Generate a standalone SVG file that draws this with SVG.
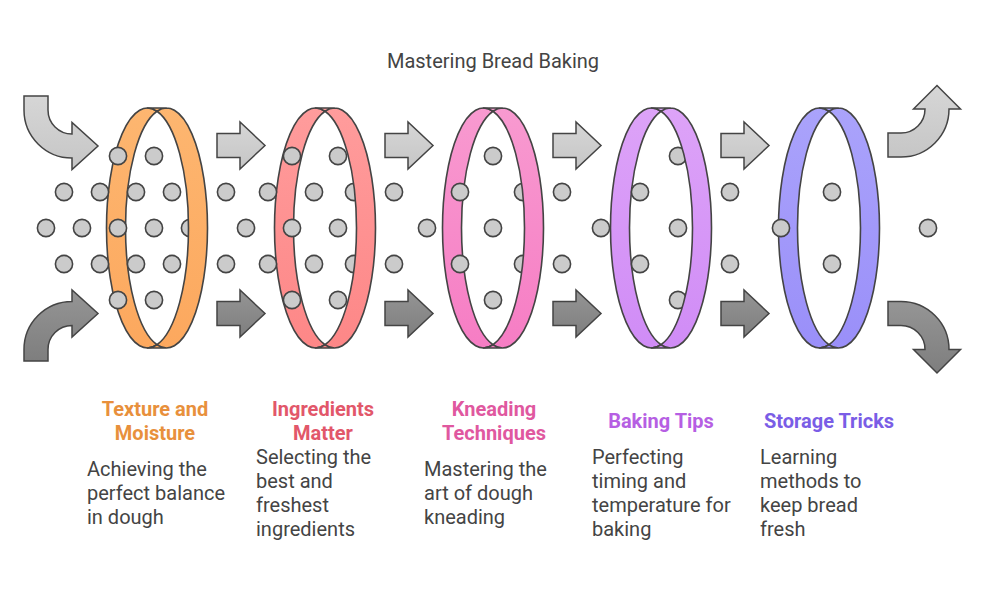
<svg xmlns="http://www.w3.org/2000/svg" width="986" height="590" viewBox="0 0 986 590">
<style>
.band{stroke:#444;stroke-width:1.6;stroke-linejoin:round}
.dot{fill:#CBCBCB;stroke:#444;stroke-width:1.6}
.arrL{fill:url(#gLight);stroke:#444;stroke-width:1.5;stroke-linejoin:miter}
.arrD{fill:url(#gDark);stroke:#444;stroke-width:1.5;stroke-linejoin:miter}
.title{font-family:Roboto,'Liberation Sans',sans-serif;font-size:20px;fill:#444;text-anchor:middle}
.head{font-family:Roboto,'Liberation Sans',sans-serif;font-size:20px;font-weight:bold;text-anchor:middle}
.desc{font-family:Roboto,'Liberation Sans',sans-serif;font-size:20px;fill:#444}
</style>
<defs>
<linearGradient id="gLight" x1="0" y1="0" x2="0" y2="1"><stop offset="0" stop-color="#D6D6D6"/><stop offset="1" stop-color="#C6C6C6"/></linearGradient>
<linearGradient id="gDark" x1="0" y1="0" x2="0" y2="1"><stop offset="0" stop-color="#959595"/><stop offset="1" stop-color="#7E7E7E"/></linearGradient>
<linearGradient id="g1" x1="0" y1="0" x2="0" y2="1"><stop offset="0" stop-color="#FDB670"/><stop offset="1" stop-color="#FCA85E"/></linearGradient>
<linearGradient id="g2" x1="0" y1="0" x2="0" y2="1"><stop offset="0" stop-color="#FF9C9C"/><stop offset="1" stop-color="#FD8787"/></linearGradient>
<linearGradient id="g3" x1="0" y1="0" x2="0" y2="1"><stop offset="0" stop-color="#F89AD0"/><stop offset="1" stop-color="#F67DC4"/></linearGradient>
<linearGradient id="g4" x1="0" y1="0" x2="0" y2="1"><stop offset="0" stop-color="#DDA3F8"/><stop offset="1" stop-color="#D08CF6"/></linearGradient>
<linearGradient id="g5" x1="0" y1="0" x2="0" y2="1"><stop offset="0" stop-color="#AAA3FB"/><stop offset="1" stop-color="#9A8FF9"/></linearGradient>
<path id="ringBack" d="M0,-116.73 A41,120 0 1 0 0,116.73 A41,120 0 0 1 0,-116.73 Z"/>
<path id="ringFront" d="M0,-116.73 A41,120 0 1 1 0,116.73 A41,120 0 0 0 0,-116.73 Z M-9.5,-120 L9.5,-120 A41,120 0 0 0 0,-116.73 A41,120 0 0 0 -9.5,-120 Z M-9.5,120 L9.5,120 A41,120 0 0 1 0,116.73 A41,120 0 0 1 -9.5,120 Z"/>
<path id="arrow" d="M0,-12 L23,-12 L23,-23.5 L48,0 L23,23.5 L23,12 L0,12 Z"/>
</defs>

<text class="title" x="493" y="68">Mastering Bread Baking</text>

<g id="connectors">
<path class="arrL" d="M24,96 L48,96 L48,110 A24,24 0 0 0 72,134 L72,122.5 L98,146 L72,169.5 L72,158 A48,48 0 0 1 24,110 Z"/>
<path class="arrD" d="M24,361 L24,349.5 A48,48 0 0 1 72,301.5 L72,290 L98,313.5 L72,337 L72,325.5 A24,24 0 0 0 48,349.5 L48,361 Z"/>
<use href="#arrow" class="arrL" transform="translate(217,145.5)"/>
<use href="#arrow" class="arrD" transform="translate(217,313.5)"/>
<use href="#arrow" class="arrL" transform="translate(385,145.5)"/>
<use href="#arrow" class="arrD" transform="translate(385,313.5)"/>
<use href="#arrow" class="arrL" transform="translate(553,145.5)"/>
<use href="#arrow" class="arrD" transform="translate(553,313.5)"/>
<use href="#arrow" class="arrL" transform="translate(721,145.5)"/>
<use href="#arrow" class="arrD" transform="translate(721,313.5)"/>
<path class="arrL" d="M888,133 L901,133 A24,24 0 0 0 925,109 L913.5,109 L937,85.5 L960.5,109 L949,109 A48,48 0 0 1 901,157 L888,157 Z"/>
<path class="arrD" d="M888,301.5 L901,301.5 A48,48 0 0 1 949,349.5 L960.5,349.5 L937,373 L913.5,349.5 L925,349.5 A24,24 0 0 0 901,325.5 L888,325.5 Z"/>
</g>

<g id="stage-1">
<use href="#ringBack" class="band" fill="url(#g1)" transform="translate(157,228)"/>
<circle class="dot" cx="118" cy="156" r="8.6"/><circle class="dot" cx="154" cy="156" r="8.6"/>
<circle class="dot" cx="64" cy="192" r="8.6"/><circle class="dot" cx="100" cy="192" r="8.6"/><circle class="dot" cx="136" cy="192" r="8.6"/><circle class="dot" cx="172" cy="192" r="8.6"/>
<circle class="dot" cx="46" cy="228" r="8.6"/><circle class="dot" cx="82" cy="228" r="8.6"/><circle class="dot" cx="118" cy="228" r="8.6"/><circle class="dot" cx="154" cy="228" r="8.6"/><circle class="dot" cx="190" cy="228" r="8.6"/>
<circle class="dot" cx="64" cy="264" r="8.6"/><circle class="dot" cx="100" cy="264" r="8.6"/><circle class="dot" cx="136" cy="264" r="8.6"/><circle class="dot" cx="172" cy="264" r="8.6"/>
<circle class="dot" cx="118" cy="300" r="8.6"/><circle class="dot" cx="154" cy="300" r="8.6"/>
<use href="#ringFront" class="band" fill="url(#g1)" transform="translate(157,228)"/>
<text class="head" fill="#E8903C"><tspan x="155" y="416">Texture and</tspan><tspan x="155" y="440">Moisture</tspan></text>
<text class="desc"><tspan x="87" y="476">Achieving the</tspan><tspan x="87" y="500">perfect balance</tspan><tspan x="87" y="524">in dough</tspan></text>
</g>

<g id="stage-2">
<use href="#ringBack" class="band" fill="url(#g2)" transform="translate(325,228)"/>
<circle class="dot" cx="292" cy="156" r="8.6"/><circle class="dot" cx="338" cy="156" r="8.6"/>
<circle class="dot" cx="226" cy="192" r="8.6"/><circle class="dot" cx="268" cy="192" r="8.6"/><circle class="dot" cx="314" cy="192" r="8.6"/><circle class="dot" cx="354" cy="192" r="8.6"/>
<circle class="dot" cx="246" cy="228" r="8.6"/><circle class="dot" cx="292" cy="228" r="8.6"/><circle class="dot" cx="338" cy="228" r="8.6"/>
<circle class="dot" cx="226" cy="264" r="8.6"/><circle class="dot" cx="268" cy="264" r="8.6"/><circle class="dot" cx="314" cy="264" r="8.6"/><circle class="dot" cx="354" cy="264" r="8.6"/>
<circle class="dot" cx="292" cy="300" r="8.6"/><circle class="dot" cx="338" cy="300" r="8.6"/>
<use href="#ringFront" class="band" fill="url(#g2)" transform="translate(325,228)"/>
<text class="head" fill="#E2576A"><tspan x="323" y="416">Ingredients</tspan><tspan x="323" y="440">Matter</tspan></text>
<text class="desc"><tspan x="256" y="464">Selecting the</tspan><tspan x="256" y="488">best and</tspan><tspan x="256" y="512">freshest</tspan><tspan x="256" y="536">ingredients</tspan></text>
</g>

<g id="stage-3">
<use href="#ringBack" class="band" fill="url(#g3)" transform="translate(493,228)"/>
<circle class="dot" cx="394" cy="192" r="8.6"/><circle class="dot" cx="394" cy="264" r="8.6"/><circle class="dot" cx="427" cy="228" r="8.6"/>
<circle class="dot" cx="493" cy="156" r="8.6"/>
<circle class="dot" cx="460" cy="192" r="8.6"/><circle class="dot" cx="523" cy="192" r="8.6"/>
<circle class="dot" cx="493" cy="228" r="8.6"/>
<circle class="dot" cx="460" cy="264" r="8.6"/><circle class="dot" cx="523" cy="264" r="8.6"/>
<circle class="dot" cx="493" cy="300" r="8.6"/>
<use href="#ringFront" class="band" fill="url(#g3)" transform="translate(493,228)"/>
<text class="head" fill="#E0589F"><tspan x="494" y="416">Kneading</tspan><tspan x="494" y="440">Techniques</tspan></text>
<text class="desc"><tspan x="424" y="476">Mastering the</tspan><tspan x="424" y="500">art of dough</tspan><tspan x="424" y="524">kneading</tspan></text>
</g>

<g id="stage-4">
<use href="#ringBack" class="band" fill="url(#g4)" transform="translate(661,228)"/>
<circle class="dot" cx="562" cy="192" r="8.6"/><circle class="dot" cx="562" cy="264" r="8.6"/><circle class="dot" cx="601" cy="228" r="8.6"/>
<circle class="dot" cx="640" cy="192" r="8.6"/><circle class="dot" cx="640" cy="264" r="8.6"/>
<circle class="dot" cx="678" cy="156" r="8.6"/><circle class="dot" cx="678" cy="228" r="8.6"/><circle class="dot" cx="678" cy="300" r="8.6"/>
<use href="#ringFront" class="band" fill="url(#g4)" transform="translate(661,228)"/>
<text class="head" fill="#B65FE3"><tspan x="661" y="428">Baking Tips</tspan></text>
<text class="desc"><tspan x="592" y="464">Perfecting</tspan><tspan x="592" y="488">timing and</tspan><tspan x="592" y="512">temperature for</tspan><tspan x="592" y="536">baking</tspan></text>
</g>

<g id="stage-5">
<use href="#ringBack" class="band" fill="url(#g5)" transform="translate(829,228)"/>
<circle class="dot" cx="730" cy="192" r="8.6"/><circle class="dot" cx="730" cy="264" r="8.6"/>
<circle class="dot" cx="781" cy="228" r="8.6"/>
<circle class="dot" cx="832" cy="192" r="8.6"/><circle class="dot" cx="832" cy="264" r="8.6"/>
<circle class="dot" cx="928" cy="228" r="8.6"/>
<use href="#ringFront" class="band" fill="url(#g5)" transform="translate(829,228)"/>
<text class="head" fill="#7A5DE6"><tspan x="829" y="428">Storage Tricks</tspan></text>
<text class="desc"><tspan x="760" y="464">Learning</tspan><tspan x="760" y="488">methods to</tspan><tspan x="760" y="512">keep bread</tspan><tspan x="760" y="536">fresh</tspan></text>
</g>
</svg>
